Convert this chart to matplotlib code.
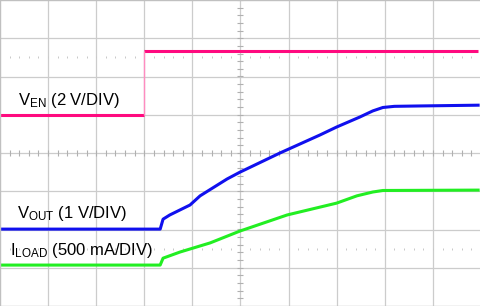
import numpy as np
import matplotlib
matplotlib.use("Agg")
import matplotlib.pyplot as plt

plt.rcParams['font.family'] = ['Liberation Sans', 'DejaVu Sans']
plt.rcParams['mathtext.fontset'] = 'custom'
plt.rcParams['mathtext.rm'] = 'Liberation Sans'
plt.rcParams['mathtext.it'] = 'Liberation Sans'

# time in divisions (0..10), levels in divisions from screen centre (-4..4)
ven_t = [0.0, 2.99, 2.99, 9.94]
ven_v = [0.99, 0.99, 2.67, 2.67]

vout_t = [0.0, 3.33, 3.39, 3.53, 3.95, 4.16, 4.72, 4.99, 5.82, 6.65, 7.0,
          7.48, 7.75, 7.96, 8.2, 8.73, 9.94]
vout_v = [-1.99, -1.99, -1.73, -1.62, -1.36, -1.12, -0.68, -0.50, 0.0, 0.47,
          0.68, 0.94, 1.10, 1.19, 1.22, 1.23, 1.25]

iload_t = [0.0, 3.33, 3.39, 3.74, 4.37, 4.99, 5.97, 7.0, 7.42, 7.75, 7.96, 9.94]
iload_v = [-2.93, -2.93, -2.75, -2.59, -2.35, -2.04, -1.62, -1.31, -1.12,
           -1.02, -0.98, -0.97]

labels = ['$\\mathrm{V_{EN}}$ (2 V/DIV)',
          '$\\mathrm{V_{OUT}}$ (1 V/DIV)',
          '$\\mathrm{I_{LOAD}}$ (500 mA/DIV)']

fig = plt.figure(figsize=(4.81, 3.06), dpi=100)
ax = fig.add_axes([0, 0, 1, 1])
ax.set_xlim(0, 10)
ax.set_ylim(-4, 4)

grid_c = '#cccccc'
for x in range(1, 10):
    ax.axvline(x, color=grid_c, lw=0.9, zorder=0)
for y in range(-3, 4):
    ax.axhline(y, color=grid_c, lw=0.9, zorder=0)

# minor ticks on centre crosshair
minor_x = np.arange(0, 10.01, 0.2)
minor_y = np.arange(-4, 4.01, 0.2)
ax.plot(minor_x, np.zeros_like(minor_x), '|', color='#b0b0b0', ms=5, mew=0.8, zorder=0)
ax.plot(np.full_like(minor_y, 5), minor_y, '_', color='#b0b0b0', ms=5, mew=0.8, zorder=0)
for yy in (2.5, -2.5):
    ax.plot(minor_x, np.full_like(minor_x, yy), '|', color='#c8c8c8', ms=2, mew=0.7, zorder=0)

# traces
ven_t = np.array(ven_t)
ven_v = np.array(ven_v)
ax.plot(ven_t[:2], ven_v[:2], color='#ff0a7f', lw=2.2, solid_capstyle='butt')
ax.plot(ven_t[2:], ven_v[2:], color='#ff0a7f', lw=2.2, solid_capstyle='butt')
ax.vlines(ven_t[1], ven_v[1], ven_v[2], color='#ff8cc0', lw=1.0)
ax.plot(vout_t, vout_v, color='#1010ee', lw=2.2)
ax.plot(iload_t, iload_v, color='#22ee22', lw=2.2)

ax.text(0.37, 1.25, labels[0], fontsize=12, va='baseline', ha='left')
ax.text(0.35, -1.70, labels[1], fontsize=12, va='baseline', ha='left')
ax.text(0.21, -2.67, labels[2], fontsize=12, va='baseline', ha='left')

ax.set_xticks([])
ax.set_yticks([])
for s in ax.spines.values():
    s.set_color('#c0c0c0')
    s.set_linewidth(1.0)

fig.savefig('out.png', dpi=100)
